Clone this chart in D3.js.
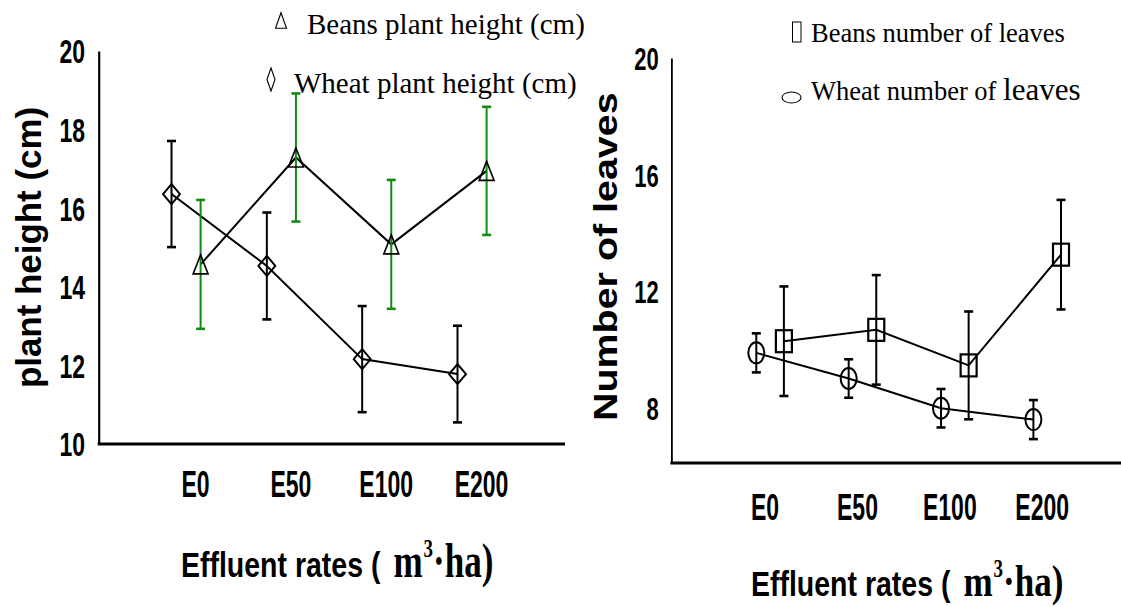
<!DOCTYPE html>
<html>
<head>
<meta charset="utf-8">
<script src="https://cdn.jsdelivr.net/npm/d3@7"></script>
<style>
  html, body { margin: 0; padding: 0; background: #fff; }
  svg { display: block; }
</style>
</head>
<body>
<svg id="chart" width="1121" height="607"></svg>
<script>
// Effluent treatments on the x axis
const categories = ["E0", "E50", "E100", "E200"];

// Plant height (cm): means and error half-widths
const heightTicks = [10, 12, 14, 16, 18, 20];
const wheatHeight = [16.36, 14.53, 12.16, 11.78];
const wheatHeightErr = [1.35, 1.36, 1.35, 1.23];
const beansHeight = [14.57, 17.29, 15.08, 16.95];
const beansHeightErr = [1.64, 1.63, 1.64, 1.63];

// Number of leaves: means and error half-widths
const leafTicks = [8, 12, 16, 20];
const wheatLeaves = [9.88, 9.00, 7.98, 7.59];
const wheatLeavesErr = [0.67, 0.66, 0.66, 0.67];
const beansLeaves = [10.28, 10.67, 9.45, 13.25];
const beansLeavesErr = [1.88, 1.88, 1.85, 1.88];

const SANS = "'Liberation Sans', Arial, Helvetica, sans-serif";
const SERIF = "'Liberation Serif', 'Times New Roman', Times, serif";
const GREEN = "#138b13";

const svg = d3.select("#chart");

// Marker shapes (drawn centred on the data point)
const markers = {
  diamond: g => g.append("path").attr("d", "M0,-10L8.5,0L0,10L-8.5,0Z")
    .attr("stroke-width", 2).attr("stroke-linejoin", "round"),
  triangle: g => g.append("path").attr("d", "M0,-9.5L7.5,9.5L-7.5,9.5Z")
    .attr("stroke-width", 1.6),
  ellipse: g => g.append("ellipse").attr("rx", 8).attr("ry", 10.5)
    .attr("stroke-width", 2),
  square: g => g.append("rect").attr("x", -8).attr("y", -11)
    .attr("width", 16).attr("height", 22).attr("stroke-width", 2.2)
};

// Axis title "Effluent rates ( m³·ha)" built from pieces, each placed after the previous one
function effluentTitle(x0, baseline, stretch) {
  const g = svg.append("g").attr("transform", `translate(${x0},${baseline})`);
  const t1 = g.append("text").text("Effluent rates (")
    .attr("font-family", SANS).attr("font-weight", "bold").attr("font-size", 28.5)
    .attr("transform", "scale(1,1.22)");
  let x = t1.node().getComputedTextLength() + 13;
  const m = g.append("text").text("m")
    .attr("font-family", SERIF).attr("font-weight", "bold").attr("font-size", 35)
    .attr("transform", `translate(${x},0) scale(1,${stretch})`);
  x += m.node().getComputedTextLength() + 1;
  const sup = g.append("text").text("3")
    .attr("font-family", SERIF).attr("font-weight", "bold").attr("font-size", 19)
    .attr("transform", `translate(${x},-19.5) scale(1,1.35)`);
  x += sup.node().getComputedTextLength();
  g.append("text").text("\u00b7ha)")
    .attr("font-family", SERIF).attr("font-weight", "bold").attr("font-size", 35)
    .attr("transform", `translate(${x},0) scale(1,${stretch})`);
}

function drawPanel(cfg) {
  const y = d3.scaleLinear().domain(cfg.yDomain).range(cfg.yRange);
  const x = d3.scalePoint().domain(categories).range(cfg.xRange);
  const baseY = cfg.yRange[0];

  // y axis: domain line plus condensed bold tick labels
  const yAxis = svg.append("g")
    .attr("transform", `translate(${cfg.axisX},0)`)
    .call(d3.axisLeft(y).tickValues(cfg.ticks).tickSize(0).tickPadding(0).tickFormat(d3.format("d")));
  yAxis.select(".domain").attr("stroke", "#000").attr("stroke-width", cfg.yAxisWidth);
  yAxis.selectAll(".tick text")
    .attr("x", cfg.tickRight - cfg.axisX)
    .attr("dy", "0.358em")
    .attr("font-family", SANS).attr("font-weight", "bold").attr("font-size", cfg.tickSize)
    .attr("fill", "#000")
    .attr("transform", `scale(1,${cfg.tickStretch})`);

  // x axis baseline running across the panel
  svg.append("line")
    .attr("x1", cfg.axisX - 1).attr("x2", cfg.xLineEnd)
    .attr("y1", baseY).attr("y2", baseY)
    .attr("stroke", "#000").attr("stroke-width", 3);

  // category labels below the baseline
  const xAxis = svg.append("g")
    .attr("transform", `translate(0,${baseY})`)
    .call(d3.axisBottom(x).tickSize(0).tickPadding(0));
  xAxis.select(".domain").remove();
  xAxis.selectAll(".tick text")
    .attr("y", 0).attr("dy", "0.358em")
    .attr("font-family", SANS).attr("font-weight", "bold").attr("font-size", 23)
    .attr("fill", "#000")
    .attr("transform", `translate(0,${cfg.labelOffset}) scale(1,1.6)`);

  // y axis title
  svg.append("text")
    .text(cfg.yTitle)
    .attr("font-family", SANS).attr("font-weight", "bold").attr("font-size", cfg.yTitleSize)
    .attr("text-anchor", "middle")
    .attr("transform", `translate(${cfg.yTitleX},${cfg.yTitleY}) rotate(-90) scale(${cfg.yTitleStretch},1)`);

  // series: connecting line, error bars, markers
  cfg.series.forEach(s => {
    const px = d => x(d.cat) + s.offset;
    const pts = categories.map((c, i) => ({ cat: c, v: s.values[i], e: s.errs[i] }));
    const g = svg.append("g");

    g.append("path")
      .datum(pts)
      .attr("fill", "none").attr("stroke", "#000").attr("stroke-width", 2)
      .attr("d", d3.line().x(px).y(d => y(d.v)));

    const bars = g.selectAll(".err").data(pts).join("g")
      .attr("stroke", s.barColor);
    bars.append("line")
      .attr("x1", px).attr("x2", px)
      .attr("y1", d => y(d.v - d.e)).attr("y2", d => y(d.v + d.e))
      .attr("stroke-width", 2);
    [d => y(d.v - d.e), d => y(d.v + d.e)].forEach(fy => {
      bars.append("line")
        .attr("x1", d => px(d) - 4.5).attr("x2", d => px(d) + 4.5)
        .attr("y1", fy).attr("y2", fy)
        .attr("stroke-width", 2.6);
    });

    g.selectAll(".mk").data(pts).join("g")
      .attr("transform", d => `translate(${px(d)},${y(d.v)})`)
      .attr("fill", "none").attr("stroke", "#000")
      .each(function () { markers[s.marker](d3.select(this)); });
  });
}

// Left: plant height
drawPanel({
  yDomain: [10, 20], yRange: [444, 51], ticks: heightTicks,
  xRange: [195, 481], axisX: 98.7, xLineEnd: 565, yAxisWidth: 2.2,
  tickRight: 85, tickSize: 23, tickStretch: 1.45, labelOffset: 40,
  yTitle: "plant height (cm)", yTitleX: 41, yTitleY: 247.5, yTitleSize: 36, yTitleStretch: 0.97,
  series: [
    { values: wheatHeight, errs: wheatHeightErr, offset: -23.5, marker: "diamond", barColor: "#000" },
    { values: beansHeight, errs: beansHeightErr, offset: 5.6, marker: "triangle", barColor: GREEN }
  ]
});

// Right: number of leaves
drawPanel({
  yDomain: [6.1, 20], yRange: [463, 58], ticks: leafTicks,
  xRange: [764.6, 1041.7], axisX: 671.4, xLineEnd: 1121, yAxisWidth: 1.8,
  tickRight: 658.7, tickSize: 22, tickStretch: 1.46, labelOffset: 44,
  yTitle: "Number of leaves", yTitleX: 617, yTitleY: 256.7, yTitleSize: 34, yTitleStretch: 1.16,
  series: [
    { values: wheatLeaves, errs: wheatLeavesErr, offset: -8.3, marker: "ellipse", barColor: "#000" },
    { values: beansLeaves, errs: beansLeavesErr, offset: 19.3, marker: "square", barColor: "#000" }
  ]
});

effluentTitle(181, 576.5, 1.4);
effluentTitle(751, 596, 1.28);

// Legends
const leg = svg.append("g").attr("fill", "none").attr("stroke", "#000");
leg.append("path").attr("d", "M281,12.7L286.5,28.3L275.5,28.3Z").attr("stroke-width", 1.1);
leg.append("path").attr("d", "M271,68L275,79.5L271,91L267,79.5Z").attr("stroke-width", 1.1);
leg.append("rect").attr("x", 792.5).attr("y", 22).attr("width", 8.5).attr("height", 20).attr("stroke-width", 1);
leg.append("ellipse").attr("cx", 791.5).attr("cy", 97.5).attr("rx", 9.5).attr("ry", 5.5).attr("stroke-width", 1.1);

const legendText = (x, yb, str, size) => svg.append("text")
  .attr("x", x).attr("y", yb).text(str)
  .attr("font-family", SERIF).attr("font-size", size).attr("fill", "#000");
legendText(307, 34, "Beans plant height (cm)", 29);
legendText(294, 93, "Wheat plant height (cm)", 29);
legendText(811, 41.7, "Beans number of leaves", 26.5);
const wl = legendText(811, 100, "Wheat number of ", 26.5);
wl.append("tspan").attr("font-size", 31).text("leaves");
</script>
</body>
</html>
